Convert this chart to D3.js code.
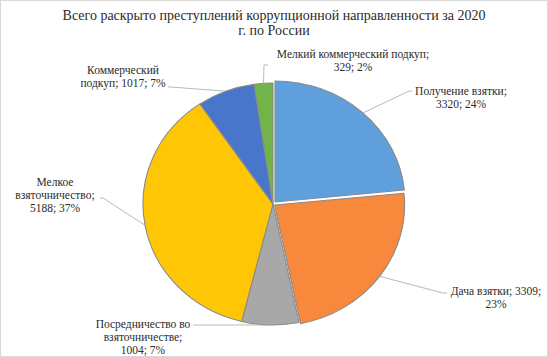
<!DOCTYPE html>
<html>
<head>
<meta charset="utf-8">
<script src="https://cdn.jsdelivr.net/npm/d3@7"></script>
<style>
    body { margin: 0; background: #fff; }
    svg { display: block; }
    text { font-family: "Liberation Serif", "Times New Roman", serif; fill: #2b2b2b; }
    .title { font-size: 14px; }
    .label { font-size: 11.5px; }
    .leader { fill: none; stroke: #a6a6a6; stroke-width: 0.8; }
</style>
</head>
<body>
<svg id="chart"></svg>
<script>
// data
const categories = [
    'Получение взятки',
    'Дача взятки',
    'Посредничество во взяточничестве',
    'Мелкое взяточничество',
    'Коммерческий подкуп',
    'Мелкий коммерческий подкуп'
];
const values = [3320, 3309, 1004, 5188, 1017, 329];
const percents = [24, 23, 7, 37, 7, 2];
const colors = ['#5e9fdc', '#f7883c', '#a8a8a8', '#ffc606', '#4876cb', '#72b34a'];

const titleLines = ['Всего раскрыто преступлений коррупционной направленности за 2020', 'г. по России'];

// label placement (Excel puts the labels by hand, so do we)
const labelLayout = [
    { cx: 461, y: 95, wrap: 104, elbow: [[409, 91], [412, 91]] },
    { cx: 496, y: 295, wrap: 106, elbow: [[443, 293], [447, 293]] },
    { cx: 143, y: 328, wrap: 102, elbow: [[196, 325], [193, 325]] },
    { cx: 55, y: 186, wrap: 95, elbow: [[103, 198], [100, 198]] },
    { cx: 123, y: 74, wrap: 100, elbow: [[171, 87], [168, 87]] },
    { cx: 353, y: 58, wrap: 170, elbow: [[264, 65], [268, 65]] }
];

const width = 548, height = 357;
const cx = 273, cy = 204, rx = 130, ry = 121;
const lineH = 13;
const explode = [3, 2, 0, 0, 0, 0];

const data = categories.map((c, i) => ({ name: c, value: values[i], pct: percents[i], i: i }));

const svg = d3.select('#chart')
    .attr('width', width)
    .attr('height', height);

svg.append('rect')
    .attr('x', 0.5).attr('y', 0.5)
    .attr('width', width - 1).attr('height', height - 1)
    .attr('fill', '#fff')
    .attr('stroke', '#d9d9d9');

svg.selectAll('.title')
    .data(titleLines)
    .join('text')
    .attr('class', 'title')
    .attr('x', width / 2)
    .attr('y', (d, i) => 20 + i * 14.5)
    .attr('text-anchor', 'middle')
    .text(d => d);

const pie = d3.pie().sort(null).value(d => d.value);
const arcs = pie(data);

const arc = d3.arc().innerRadius(0).outerRadius(rx);
const edgeArc = d3.arc().innerRadius(rx).outerRadius(rx);

const sy = ry / rx;

const pieG = svg.append('g')
    .attr('transform', `translate(${cx},${cy}) scale(1,${sy})`);

pieG.selectAll('path')
    .data(arcs)
    .join('path')
    .attr('transform', d => {
        const mid = (d.startAngle + d.endAngle) / 2;
        const e = explode[d.data.i];
        return `translate(${e * Math.sin(mid)},${-e * Math.cos(mid)})`;
    })
    .attr('d', arc)
    .attr('fill', d => colors[d.data.i])
    .attr('stroke', '#8a8a8a')
    .attr('stroke-width', 1.1)
    .attr('stroke-linejoin', 'round');

// leader lines from slice edge to the label
const leaderLine = d3.line();
svg.selectAll('.leader')
    .data(arcs)
    .join('path')
    .attr('class', 'leader')
    .attr('d', d => {
        const p = edgeArc.centroid(d);
        const start = [cx + p[0], cy + p[1] * sy];
        return leaderLine([start].concat(labelLayout[d.data.i].elbow));
    });

// labels, wrapped by width
const labels = svg.selectAll('.label')
    .data(data)
    .join('text')
    .attr('class', 'label')
    .attr('text-anchor', 'middle');

labels.each(function (d) {
    const t = d3.select(this);
    const lay = labelLayout[d.i];
    const words = `${d.name}; ${d.value}; ${d.pct}%`.split(' ');
    const lines = [];
    let cur = '';
    const probe = t.append('tspan');
    words.forEach(w => {
        const test = cur ? cur + ' ' + w : w;
        probe.text(test);
        if (cur && probe.node().getComputedTextLength() > lay.wrap) {
            lines.push(cur);
            cur = w;
        } else {
            cur = test;
        }
    });
    lines.push(cur);
    probe.remove();
    t.selectAll('tspan')
        .data(lines)
        .join('tspan')
        .attr('x', lay.cx)
        .attr('y', (l, k) => lay.y + k * lineH)
        .text(l => l);
});
</script>
</body>
</html>
